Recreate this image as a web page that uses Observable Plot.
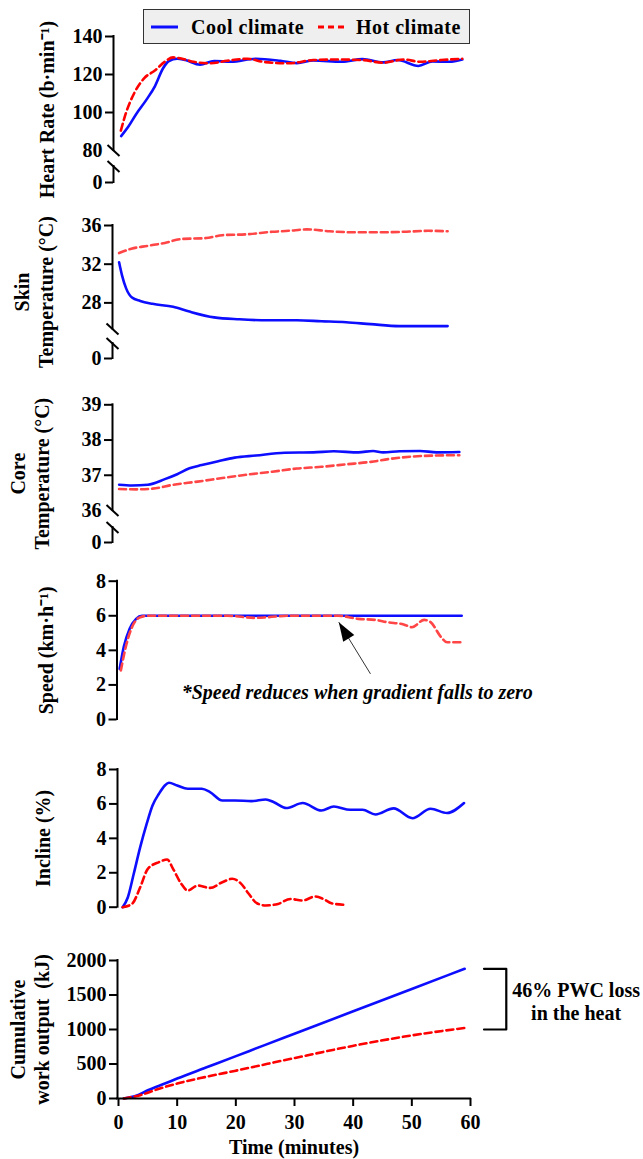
<!DOCTYPE html>
<html>
<head>
<meta charset="utf-8">
<script src="https://cdn.jsdelivr.net/npm/d3@7"></script>
<script src="https://cdn.jsdelivr.net/npm/@observablehq/plot@0.6"></script>
<style>
  body { margin: 0; background: #fff; }
  #root { position: relative; width: 643px; height: 1159px; overflow: hidden; font-family: "Liberation Serif", "Times New Roman", serif; }
  .panel { position: absolute; left: 0; }
  .panel svg { overflow: visible; }
  #legend { position: absolute; left: 143px; top: 9px; width: 325px; height: 33px; border: 1px solid #333; background: #efefef; z-index: 5; }
  #legend span { position: absolute; top: 5px; font-weight: bold; font-size: 20px; letter-spacing: 0.5px; color: #000; line-height: 24px; }
</style>
</head>
<body>
<div id="root"></div>
<script>
// ---------------- DATA ----------------
const seriesNames = ["Cool climate", "Hot climate"];
const timeTicks = [0, 10, 20, 30, 40, 50, 60];

// Heart rate (b·min-1)
const hrCoolTime = [0.45,1.6,3.0,4.8,6.2,7.6,8.6,10.0,11.4,13.9,16.3,19.2,23.4,27.6,30.4,33.2,38.1,41.6,45.1,47.6,51.1,53.5,56.4,58.6];
const hrCool     = [87.6,92.2,99.1,106.9,113.8,123.3,127.1,128.3,127.6,125.2,127.1,126.7,128.3,127.2,126.0,127.4,126.7,128.1,126.4,127.6,124.5,126.9,126.7,127.9];
const hrHotTime  = [0.4,1.3,2.7,4.4,6.2,7.9,9.3,10.7,12.8,15.6,18.5,22,24.8,29,33.2,37.4,41.6,45.1,48.6,51.4,55,58.6];
const hrHot      = [90.5,100,110.3,118.1,122.1,126.7,129,128.4,126.7,125.9,127.2,128.3,126.6,125.9,127.6,127.9,127.6,126.2,127.9,126.7,127.6,128.3];
const hrTicks = [0, 100, 120, 140];
const hrBareTicks = [80];

// Skin temperature (°C)
const skinCoolTime = [0.1,0.6,1.3,2.3,3.7,5.8,9.3,12.1,16.3,20.6,25.5,30.4,34.6,38.8,43,47.9,56.1];
const skinCool     = [32.2,30.85,29.5,28.55,28.2,27.9,27.6,27.1,26.5,26.3,26.2,26.2,26.1,26.0,25.8,25.6,25.6];
const skinHotTime  = [0.1,2.2,5,7.9,10.7,14.9,17.7,22,26.2,29,32.1,36,40.2,44.4,48.6,52.8,56.1];
const skinHot      = [33.15,33.6,33.9,34.2,34.6,34.7,35.0,35.1,35.35,35.45,35.6,35.4,35.3,35.3,35.35,35.45,35.4];
const skinTicks = [0, 28, 32, 36];

// Core temperature (°C)
const coreCoolTime = [0.1,2.3,5,7.9,10,12.1,14.2,17,19.8,23.4,28.3,33.2,36.7,40.9,43.4,45.1,47.9,51.4,54.2,58.1];
const coreCool     = [36.73,36.71,36.73,36.89,37.03,37.2,37.29,37.4,37.5,37.56,37.64,37.65,37.68,37.65,37.69,37.65,37.68,37.69,37.65,37.66];
const coreHotTime  = [0.1,3,5.8,9.3,13.5,17.7,22,26.2,30.4,34.6,38.8,43,46.5,50,54.2,58.1];
const coreHot      = [36.61,36.6,36.62,36.73,36.82,36.92,37.02,37.1,37.19,37.24,37.31,37.38,37.47,37.53,37.56,37.57];
const coreTicks = [0, 37, 38, 39];
const coreBareTicks = [36];

// Speed (km·h-1)
const speedCoolTime = [0.2,0.9,1.9,3,4,10,20,30,40,50,58.5];
const speedCool     = [2.93,4.2,5.25,5.82,6,6,6,6,6,6,6];
const speedHotTime  = [0.4,1.3,2.3,3.7,5,18.5,23.4,25.5,29,37.4,40.9,43.8,45.8,48.6,50,52.1,53.2,55,56,58.5];
const speedHot      = [2.84,4.28,5.34,5.92,6,6,5.88,5.92,6,6,5.82,5.76,5.63,5.5,5.34,5.76,5.63,4.76,4.47,4.47];
const speedTicks = [0, 2, 4, 6, 8];
const speedNote = "*Speed reduces when gradient falls to zero";

// Incline (%)
const inclCoolTime = [0.7,1.6,2.6,3.7,4.8,5.8,6.9,7.9,8.6,10,11.8,14.2,15.6,17.7,19.8,22.7,25.1,26.5,28.6,31.4,34.6,36.7,39.5,41.6,43.8,46.9,50.1,53.2,56,58.9];
const inclCool     = [0,0.58,1.94,3.49,4.84,5.91,6.59,7.07,7.23,7.07,6.88,6.88,6.69,6.2,6.2,6.16,6.26,6.1,5.76,6.05,5.62,5.85,5.66,5.66,5.39,5.74,5.17,5.72,5.47,6.05];
const inclHotTime  = [0.7,2.3,3.7,5,6.9,8.3,9.3,10.7,11.8,13.5,15.6,17.7,19.4,20.8,22.2,23.6,25.1,27.2,29.3,31.4,33.5,34.9,36.3,38.4];
const inclHot      = [0,0.19,1.16,2.23,2.62,2.77,2.23,1.36,0.97,1.26,1.12,1.45,1.65,1.4,0.78,0.23,0.1,0.19,0.48,0.39,0.62,0.48,0.23,0.14];
const inclTicks = [0, 2, 4, 6, 8];

// Cumulative work output (kJ)
const workCoolTime = [0.9,3,5,7.9,10,14.9,19.8,24.8,30.1,39.9,50.1,59];
const workCool     = [0,39,120,217,289,448,607,770,942,1260,1591,1880];
const workHotTime  = [0.9,3.7,6.5,10,14.9,19.8,30.1,39.9,50.1,59];
const workHot      = [0,48,130,217,313,400,588,762,916,1022];
const workTicks = [0, 500, 1000, 1500, 2000];
const workNote = "46% PWC loss\nin the heat";

// ---------------- STYLE / LAYOUT ----------------
const W = 643;
const X0 = 118, X60 = 470;           // pixel positions of t = 0 and t = 60
const INK = "#000";
const BLUE = "#0d0dff";
const RED = "#ff0000";
const RED_LIGHT = "#ff4545";
const FONT = '"Liberation Serif", "Times New Roman", serif';

const slashSymbol = { draw(ctx) { ctx.moveTo(-6, -5.5); ctx.lineTo(6, 5.5); } };
const headSymbol = { draw(ctx) { ctx.moveTo(0, 0); ctx.lineTo(-6.5, 19); ctx.lineTo(6.5, 19); ctx.closePath(); } };

const zip = (t, v) => t.map((d, i) => ({ t: d, v: v[i] }));

function panel(cfg) {
  const pxPerMin = (X60 - X0) / 60;
  const a = -(X0 - cfg.axisX) / pxPerMin;   // x value at the y-axis line
  const localRange = cfg.yRange.map(v => v - cfg.top);
  // piecewise (broken-axis) mapping: value -> local pixel; the Plot y scale is then an identity on it
  const f = d3.scaleLinear().domain(cfg.yDomain).range(localRange);
  const yLo = Math.max(...localRange), yHi = Math.min(...localRange);
  const mt = yHi, mb = cfg.height - yLo;
  const yTop = cfg.yDomain[cfg.yDomain.length - 1];
  const fmt = v => String(Math.round(f.invert(v) * 100) / 100);
  const axisStyle = { stroke: INK, strokeWidth: 2, strokeLinecap: "square" };
  const marks = [];
  if (cfg.breaks) {
    marks.push(Plot.ruleX([a], { y1: f(cfg.breaks[1]), y2: f(yTop), ...axisStyle }));
    marks.push(Plot.ruleX([a], { y1: f(0), y2: f(cfg.breaks[0]), ...axisStyle }));
    marks.push(Plot.dot(cfg.breaks, { x: () => a, y: d => f(d), symbol: slashSymbol, fill: "none", stroke: INK, strokeWidth: 2 }));
  } else {
    marks.push(Plot.ruleX([a], { y1: f(cfg.yDomain[0]), y2: f(yTop), ...axisStyle }));
  }
  marks.push(Plot.axisY({ ticks: cfg.ticks.map(f), tickSize: 8, tickPadding: 3, strokeWidth: 2, label: null, tickFormat: fmt, fontSize: 20, fontWeight: "bold" }));
  if (cfg.bareTicks) {
    marks.push(Plot.axisY({ ticks: cfg.bareTicks.map(f), tickSize: 0, tickPadding: 11, label: null, tickFormat: fmt, fontSize: 20, fontWeight: "bold" }));
  }
  marks.push(Plot.text([cfg.title], {
    text: d => d, frameAnchor: "left", dx: cfg.titleX - cfg.axisX, rotate: -90,
    textAnchor: "middle", lineAnchor: "middle", lineHeight: 1.17, fontSize: 20, fontWeight: "bold", fill: INK
  }));
  for (const s of cfg.series) {
    marks.push(Plot.line(s.data, {
      x: "t", y: d => f(d.v), stroke: s.color, strokeWidth: 2.6, curve: "monotone-x",
      strokeDasharray: s.dashed ? "7,4" : null
    }));
  }
  if (cfg.xAxis) {
    marks.push(Plot.ruleY([f(0)], axisStyle));
    marks.push(Plot.axisX({ ticks: timeTicks, tickSize: 8, tickPadding: 8, strokeWidth: 2, label: null, tickFormat: d => String(d), fontSize: 20, fontWeight: "bold" }));
    marks.push(Plot.text(["Time (minutes)"], { text: d => d, frameAnchor: "bottom", dy: 49, lineAnchor: "middle", fontSize: 20, fontWeight: "bold", fill: INK }));
  }
  if (cfg.extra) marks.push(...cfg.extra(f));

  const svg = Plot.plot({
    width: W, height: cfg.height,
    marginLeft: cfg.axisX, marginRight: W - X60, marginTop: mt, marginBottom: mb,
    x: { domain: [a, 60], axis: null },
    y: { domain: [yLo, yHi], range: [yLo, yHi], axis: null },
    style: { fontFamily: FONT, fontSize: "20px", fontWeight: "bold", color: INK, background: "transparent", overflow: "visible" },
    marks
  });
  const div = document.createElement("div");
  div.className = "panel";
  div.style.top = cfg.top + "px";
  div.appendChild(svg);
  document.getElementById("root").appendChild(div);
}

// Heart rate
panel({
  top: 0, height: 195, axisX: 113,
  yDomain: [0, 40, 80, 140], yRange: [182, 166, 150, 36],
  ticks: hrTicks, bareTicks: hrBareTicks, breaks: [40, 80],
  title: "Heart Rate (b·min⁻¹)", titleX: 46,
  series: [
    { data: zip(hrCoolTime, hrCool), color: BLUE },
    { data: zip(hrHotTime, hrHot), color: RED, dashed: true }
  ]
});

// Skin temperature
panel({
  top: 195, height: 180, axisX: 112,
  yDomain: [0, 12, 25.3, 36], yRange: [358, 343, 328.5, 225],
  ticks: skinTicks, breaks: [12, 25.3],
  title: "Skin\nTemperature (°C)", titleX: 33,
  series: [
    { data: zip(skinCoolTime, skinCool), color: BLUE },
    { data: zip(skinHotTime, skinHot), color: RED_LIGHT, dashed: true }
  ]
});

// Core temperature
panel({
  top: 375, height: 180, axisX: 112,
  yDomain: [0, 18, 36, 39], yRange: [542, 527, 510, 404.3],
  ticks: coreTicks, bareTicks: coreBareTicks, breaks: [18, 36],
  title: "Core\nTemperature (°C)", titleX: 29,
  series: [
    { data: zip(coreCoolTime, coreCool), color: BLUE },
    { data: zip(coreHotTime, coreHot), color: RED_LIGHT, dashed: true }
  ]
});

// Speed
panel({
  top: 555, height: 180, axisX: 116.5,
  yDomain: [0, 8], yRange: [719, 580.7],
  ticks: speedTicks,
  title: "Speed (km·h⁻¹)", titleX: 45,
  series: [
    { data: zip(speedCoolTime, speedCool), color: BLUE },
    { data: zip(speedHotTime, speedHot), color: RED_LIGHT, dashed: true }
  ],
  extra: f => [
    Plot.link([{ x1: 42.95, y1: 2.64, x2: 37.55, y2: 5.63 }], { x1: "x1", y1: d => f(d.y1), x2: "x2", y2: d => f(d.y2), stroke: "#333", strokeWidth: 1 }),
    Plot.dot([{ x: 37.55, y: 5.63 }], { x: "x", y: d => f(d.y), symbol: headSymbol, rotate: -31.6, fill: INK, stroke: "none" }),
    Plot.text([speedNote], { text: d => d, x: () => 40.7, y: () => f(1.58), fontSize: 20, fontWeight: "bold", fontStyle: "italic", lineAnchor: "middle", fill: INK })
  ]
});

// Incline
panel({
  top: 735, height: 185, axisX: 117,
  yDomain: [0, 8], yRange: [906.7, 769],
  ticks: inclTicks,
  title: "Incline (%)", titleX: 42,
  series: [
    { data: zip(inclCoolTime, inclCool), color: BLUE },
    { data: zip(inclHotTime, inclHot), color: RED, dashed: true }
  ]
});

// Cumulative work output
panel({
  top: 920, height: 239, axisX: 117,
  yDomain: [0, 2000], yRange: [1098, 960],
  ticks: workTicks,
  title: "Cumulative\nwork output  (kJ)", titleX: 29,
  xAxis: true,
  series: [
    { data: zip(workCoolTime, workCool), color: BLUE },
    { data: zip(workHotTime, workHot), color: RED, dashed: true }
  ],
  extra: f => [
    Plot.line([{ x: 62.3, y: workCool[workCool.length - 1] }, { x: 66.1, y: workCool[workCool.length - 1] }, { x: 66.1, y: 1000 }, { x: 62.3, y: 1000 }],
      { x: "x", y: d => f(d.y), stroke: INK, strokeWidth: 2.2 }),
    Plot.text([workNote], { text: d => d, x: () => 78, y: () => f(1413), fontSize: 20, fontWeight: "bold", lineAnchor: "middle", lineHeight: 1.17, fill: INK })
  ]
});

// Legend (HTML overlay)
const legend = document.createElement("div");
legend.id = "legend";
legend.innerHTML = `
  <svg width="325" height="33" style="position:absolute;left:0;top:0">
    <line x1="7" x2="34" y1="17" y2="17" stroke="${BLUE}" stroke-width="3"/>
    <line x1="174" x2="201" y1="17" y2="17" stroke="${RED}" stroke-width="3" stroke-dasharray="6,4"/>
  </svg>
  <span style="left:47px">${seriesNames[0]}</span>
  <span style="left:212px">${seriesNames[1]}</span>`;
document.getElementById("root").appendChild(legend);
</script>
</body>
</html>
